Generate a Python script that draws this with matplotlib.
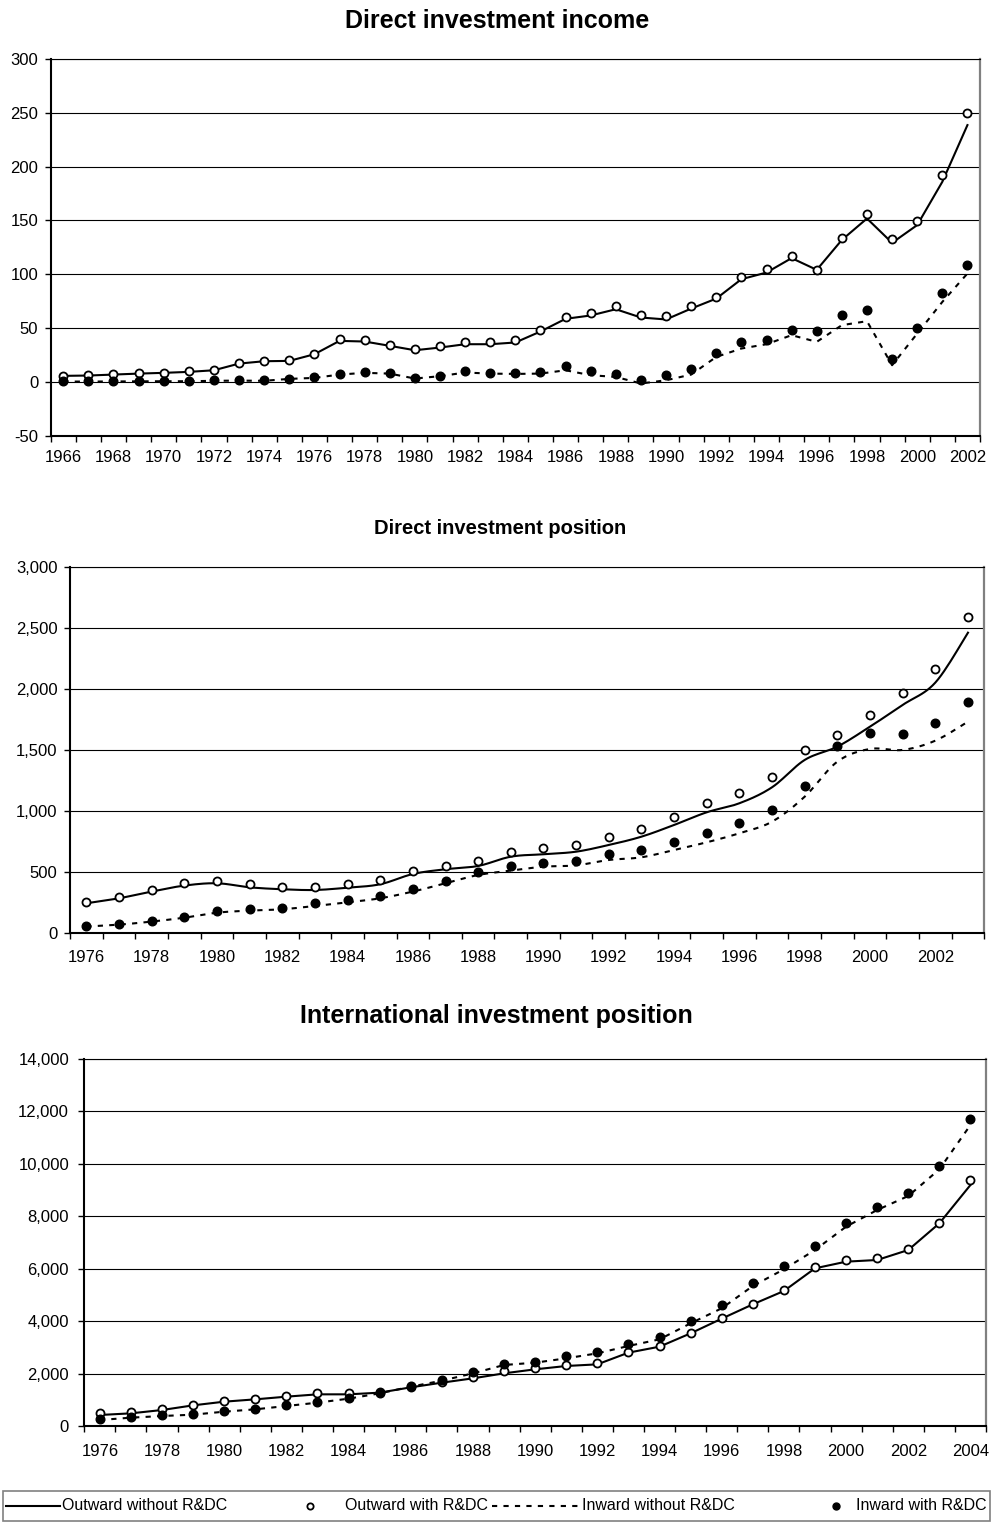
import numpy as np
import matplotlib
matplotlib.use("Agg")
import matplotlib.pyplot as plt
from matplotlib.ticker import FuncFormatter, FixedLocator
from matplotlib.lines import Line2D
from matplotlib.patches import Rectangle

plt.rcParams["font.family"] = ["Liberation Sans", "DejaVu Sans"]

# ---- Direct investment income (1966-2002) ----
income_years = list(range(1966, 2003))
income_out_without = [5.6, 5.9, 6.8, 7.7, 8.4, 9.3, 10.8, 17.0, 19.2, 19.5, 25.7, 38.1, 37.5, 33.5,
                      29.4, 31.9, 35.0, 35.0, 36.6, 46.8, 58.6, 61.7, 67.5, 59.8, 58.0, 68.1, 77.4,
                      95.4, 101.6, 115.0, 104.1, 131.9, 151.8, 129.2, 145.7, 185.9, 238.6]
income_out_with = [5.6, 6.2, 7.1, 8.0, 8.7, 9.9, 11.5, 17.3, 19.8, 20.4, 26.3, 39.7, 38.7, 34.7,
                   31.0, 33.5, 36.6, 36.6, 38.7, 48.0, 60.7, 64.4, 70.9, 62.0, 61.3, 70.6, 79.3,
                   97.0, 104.7, 117.1, 104.4, 134.1, 156.4, 132.3, 149.6, 191.8, 249.4]
income_in_without = [0.3, 0.3, 0.4, 0.5, 0.6, 0.6, 1.0, 1.2, 1.0, 2.8, 3.7, 6.8, 8.4, 7.7,
                     3.1, 5.3, 8.7, 7.7, 7.4, 7.7, 10.8, 6.2, 4.6, -1.5, 1.5, 6.8, 23.2,
                     31.0, 35.0, 43.4, 37.2, 52.7, 56.4, 15.5, 44.9, 74.3, 100.7]
income_in_with = [0.6, 0.6, 0.6, 0.9, 0.9, 0.9, 1.5, 1.9, 1.5, 3.1, 4.3, 7.1, 9.6, 8.7,
                  3.7, 5.9, 10.2, 8.7, 8.7, 9.6, 15.2, 10.5, 7.7, 1.5, 6.5, 12.1, 27.0,
                  36.6, 38.7, 48.6, 47.1, 62.3, 66.6, 20.8, 50.5, 82.4, 108.4]

# ---- Direct investment position (1976-2003) ----
position_years = list(range(1976, 2004))
position_out_without = [246, 287, 342, 391, 410, 377, 361, 355, 374, 402, 486, 525, 552,
                        628, 648, 669, 724, 792, 888, 992, 1066, 1197, 1421, 1530, 1694, 1872, 2055, 2464]
position_out_with = [260, 300, 355, 410, 432, 402, 383, 377, 404, 437, 511, 552, 596,
                     667, 702, 724, 787, 855, 956, 1066, 1148, 1279, 1503, 1626, 1792, 1973, 2167, 2590]
position_in_without = [55, 71, 96, 128, 169, 186, 197, 224, 254, 287, 342, 410, 478,
                       514, 546, 557, 601, 623, 683, 746, 820, 915, 1120, 1407, 1511, 1503, 1579, 1735]
position_in_with = [63, 77, 104, 137, 180, 199, 210, 246, 273, 309, 361, 432, 503,
                    549, 579, 596, 650, 683, 749, 820, 907, 1011, 1208, 1538, 1645, 1634, 1724, 1893]

# ---- International investment position (1976-2004) ----
iip_years = list(range(1976, 2005))
iip_out_without = [420, 483, 610, 788, 928, 1017, 1119, 1208, 1208, 1272, 1475, 1653, 1818,
                   2009, 2162, 2289, 2352, 2798, 3026, 3535, 4095, 4641, 5150, 6015, 6269, 6333,
                   6714, 7731, 9194]
iip_out_with = [483, 534, 636, 814, 966, 1043, 1144, 1246, 1246, 1297, 1500, 1679, 1857,
                2111, 2225, 2340, 2391, 2823, 3052, 3548, 4107, 4641, 5175, 6053, 6333, 6396,
                6752, 7757, 9385]
iip_in_without = [229, 318, 381, 432, 547, 636, 763, 890, 1043, 1246, 1500, 1729, 2009,
                  2327, 2416, 2581, 2772, 3052, 3306, 3917, 4489, 5341, 5977, 6714, 7604, 8240,
                  8774, 9791, 11483]
iip_in_with = [267, 331, 407, 458, 585, 661, 788, 916, 1068, 1272, 1526, 1755, 2047,
               2378, 2454, 2658, 2823, 3115, 3383, 4018, 4603, 5468, 6091, 6854, 7744, 8367,
               8876, 9931, 11699]

legend_labels = ["Outward without R&DC", "Outward with R&DC",
                 "Inward without R&DC", "Inward with R&DC"]

W, H = 993, 1522
fig = plt.figure(figsize=(W / 100, H / 100), dpi=100)

DASH = (0, (2.5, 3.0))
LW = 1.5
OPEN = dict(marker="o", ms=5.8, mfc="white", mec="black", mew=1.3)
FILLED = dict(marker="o", ms=6.2, mfc="black", mec="black")


def box(left, top, right, bottom):
    return [left / W, 1 - bottom / H, (right - left) / W, (bottom - top) / H]


def smooth(x, y, n=12):
    """Cubic Bezier (Catmull-Rom) smoothing of a polyline for drawing."""
    x = np.asarray(x, float)
    y = np.asarray(y, float)
    px = np.concatenate([[x[0]], x, [x[-1]]])
    py = np.concatenate([[y[0]], y, [y[-1]]])
    xs, ys = [], []
    t = np.linspace(0, 1, n, endpoint=False)
    for i in range(1, len(px) - 2):
        p0, p1, p2, p3 = (np.array([px[j], py[j]]) for j in (i - 1, i, i + 1, i + 2))
        c1 = p1 + (p2 - p0) / 6.0
        c2 = p2 - (p3 - p1) / 6.0
        pts = ((1 - t) ** 3)[:, None] * p1 + (3 * (1 - t) ** 2 * t)[:, None] * c1 \
            + (3 * (1 - t) * t ** 2)[:, None] * c2 + (t ** 3)[:, None] * p2
        xs.extend(pts[:, 0])
        ys.extend(pts[:, 1])
    xs.append(x[-1])
    ys.append(y[-1])
    return np.array(xs), np.array(ys)


def panel(rect, years, out_wo, out_w, in_wo, in_w, ylim, ystep, xpad, ypad, smoothed=False):
    ax = fig.add_axes(rect)
    yrs = np.array(years)
    if smoothed:
        ax.plot(*smooth(yrs, in_wo), color="black", lw=LW, linestyle=DASH, zorder=3)
        ax.plot(*smooth(yrs, out_wo), color="black", lw=LW, zorder=3)
    else:
        ax.plot(yrs, in_wo, color="black", lw=LW, linestyle=DASH, zorder=3)
        ax.plot(yrs, out_wo, color="black", lw=LW, zorder=3)
    ax.plot(yrs, out_w, linestyle="none", zorder=4, **OPEN)
    ax.plot(yrs, in_w, linestyle="none", zorder=4, **FILLED)

    ax.set_xlim(yrs[0] - 0.5, yrs[-1] + 0.5)
    ax.set_ylim(*ylim)
    ax.yaxis.set_major_locator(FixedLocator(np.arange(ylim[0], ylim[1] + ystep / 2, ystep)))
    ax.yaxis.set_major_formatter(FuncFormatter(lambda v, p: f"{int(round(v)):,}"))
    ax.set_xticks(yrs[::2])
    ax.set_xticklabels([str(y) for y in yrs[::2]])
    ax.set_xticks(np.arange(yrs[0] - 0.5, yrs[-1] + 1.0, 1.0), minor=True)
    ax.tick_params(axis="x", which="major", length=0, pad=xpad, labelsize=12)
    ax.tick_params(axis="x", which="minor", length=4, width=1.0, direction="out")
    ax.tick_params(axis="y", which="major", length=4, width=1.0, direction="out",
                   pad=ypad, labelsize=12)
    ax.grid(axis="y", color="black", lw=0.8, zorder=1)
    ax.set_axisbelow(True)
    for s in ("left", "bottom"):
        ax.spines[s].set_color("black")
        ax.spines[s].set_linewidth(1.5)
    ax.spines["top"].set_color("black")
    ax.spines["top"].set_linewidth(0.8)
    ax.spines["right"].set_color("#808080")
    ax.spines["right"].set_linewidth(1.6)
    return ax


panel(box(50.7, 59, 980, 435.7), income_years, income_out_without, income_out_with,
      income_in_without, income_in_with, (-50, 300), 50, xpad=10, ypad=5)
fig.text(497 / W, 1 - 21 / H, "Direct investment income", ha="center", va="center",
         fontsize=18, fontweight="bold")

panel(box(70, 567.3, 984.3, 933.3), position_years, position_out_without, position_out_with,
      position_in_without, position_in_with, (0, 3000), 500, xpad=12, ypad=5, smoothed=True)
fig.text(500 / W, 1 - 528 / H, "Direct investment position", ha="center", va="center",
         fontsize=14.5, fontweight="bold")

panel(box(84.3, 1059, 986, 1426), iip_years, iip_out_without, iip_out_with,
      iip_in_without, iip_in_with, (0, 14000), 2000, xpad=13, ypad=7)
fig.text(496 / W, 1 - 1016 / H, "International investment position", ha="center",
         va="center", fontsize=18, fontweight="bold")

# Legend strip along the bottom edge
fx = lambda px: px / W
fy = lambda py: 1 - py / H
fig.add_artist(Rectangle((fx(3), fy(1521)), fx(990) - fx(3), fy(1491) - fy(1521),
                         transform=fig.transFigure, fill=False, edgecolor="#808080", lw=1.2))
ly = 1506
fig.add_artist(Line2D([fx(6), fx(60)], [fy(ly), fy(ly)], transform=fig.transFigure,
                      color="black", lw=LW))
fig.add_artist(Line2D([fx(310)], [fy(ly)], transform=fig.transFigure, linestyle="none",
                      **dict(OPEN, ms=4.5)))
fig.add_artist(Line2D([fx(492), fx(578)], [fy(ly), fy(ly)], transform=fig.transFigure,
                      color="black", lw=LW, linestyle=DASH))
fig.add_artist(Line2D([fx(836)], [fy(ly)], transform=fig.transFigure, linestyle="none",
                      **dict(FILLED, ms=5.0)))
for x0, lab in zip([62, 345, 582, 856], legend_labels):
    fig.text(fx(x0), fy(ly), lab, ha="left", va="center", fontsize=11.5)

fig.savefig("out.png", dpi=100)
